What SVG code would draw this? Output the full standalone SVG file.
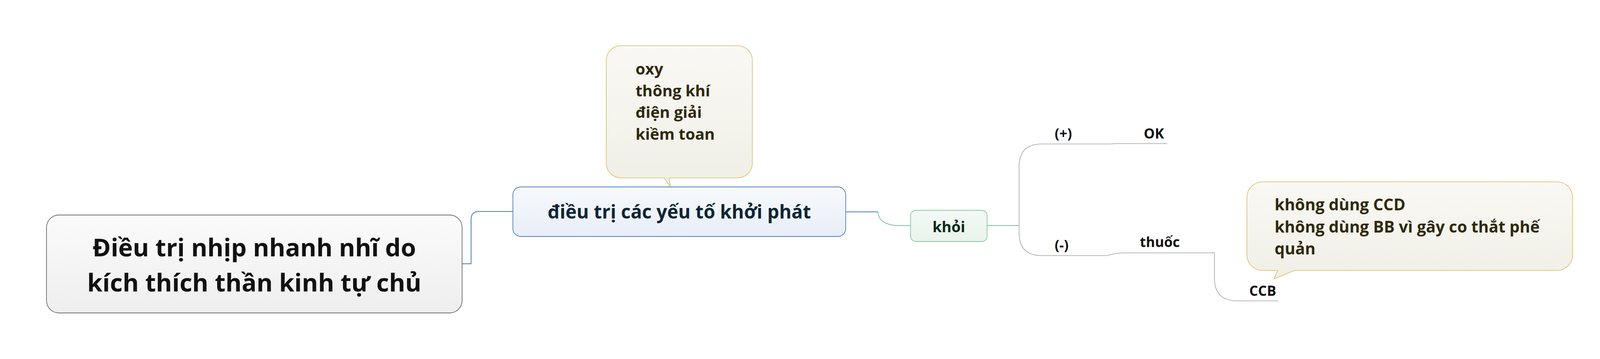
<svg xmlns="http://www.w3.org/2000/svg" width="4144" height="920" viewBox="0 0 4144 920">
<defs>
<linearGradient id="gRoot" x1="0" y1="0" x2="0" y2="1"><stop offset="0" stop-color="#fbfbfb"/><stop offset="1" stop-color="#eeeeee"/></linearGradient>
<linearGradient id="gMain" x1="0" y1="0" x2="0" y2="1"><stop offset="0" stop-color="#f7f9fc"/><stop offset="1" stop-color="#e8eef8"/></linearGradient>
<linearGradient id="gGreen" x1="0" y1="0" x2="0" y2="1"><stop offset="0" stop-color="#f4f9f5"/><stop offset="1" stop-color="#e8f3eb"/></linearGradient>
<linearGradient id="gNote" x1="0" y1="0" x2="0" y2="1"><stop offset="0" stop-color="#f9f8f4"/><stop offset="1" stop-color="#f0efe6"/></linearGradient>
</defs>
<style>
text{font-family:"Open Sans","Noto Sans","Liberation Sans",sans-serif;font-weight:700}
.conn path{fill:none}
.blue{stroke:#4a7ebb;stroke-width:2}
.green{stroke:#7cc49a;stroke-width:2}
.gray{stroke:#a3a3a3;stroke-width:1.6}
.note{fill:url(#gNote);stroke:#d8be63;stroke-width:1.6}
.notet{font-size:40px;fill:#2f2a0e}
.note2t{font-size:41px;fill:#2f2a0e}
.leaf{font-size:35.5px;fill:#111111}
</style>
<rect width="4144" height="920" fill="#ffffff"/>
<g id="connectors" class="conn">
<path class="blue" d="M1183,676 H1206 V562 Q1206,542 1226,542 H1313"/>
<path class="blue" d="M2165,543 H2248"/>
<path class="green" d="M2248,543 C2248,566 2270,578 2302,578 H2331"/>
<path class="green" d="M2527,578 H2609"/>
<path class="gray" d="M2609,578 V427 Q2609,369 2667,369 H2840 C2850,369 2850,368 2862,368 H2988"/>
<path class="gray" d="M2609,578 V597 Q2609,655 2667,655 H2830 C2845,655 2845,648 2880,648 H3109 V713 Q3109,771 3167,771 H3272"/>
</g>
<g id="root">
<rect x="119" y="551" width="1064" height="251" rx="32" ry="32" fill="url(#gRoot)" stroke="#6f6f6f" stroke-width="1.8"/>
<text x="651" y="657" font-size="63" fill="#111111" text-anchor="middle">Điều trị nhịp nhanh nhĩ do</text>
<text x="651" y="747" font-size="63" fill="#111111" text-anchor="middle">kích thích thần kinh tự chủ</text>
</g>
<g id="main">
<rect x="1313" y="479" width="852" height="127" rx="20" ry="20" fill="url(#gMain)" stroke="#4f81bd" stroke-width="1.8"/>
<text x="1739" y="560" font-size="48" fill="#0f2633" text-anchor="middle">điều trị các yếu tố khởi phát</text>
</g>
<g id="note1">
<path class="note" d="M1590,117 H1888 A38,38 0 0 1 1926,155 V418 A38,38 0 0 1 1888,456 H1713 L1716,478 L1700,456 H1590 A38,38 0 0 1 1552,418 V155 A38,38 0 0 1 1590,117 Z"/>
<text class="notet" x="1627" y="191">oxy</text>
<text class="notet" x="1627" y="247">thông khí</text>
<text class="notet" x="1627" y="302">điện giải</text>
<text class="notet" x="1627" y="358">kiềm toan</text>
</g>
<g id="khoi">
<rect x="2331" y="539" width="196" height="80" rx="14" ry="14" fill="url(#gGreen)" stroke="#84cc9f" stroke-width="1.8"/>
<text x="2429" y="595" font-size="38" fill="#0b2918" text-anchor="middle">khỏi</text>
</g>
<g id="plus"><text class="leaf" x="2700" y="355">(+)</text></g>
<g id="ok"><text class="leaf" x="2928" y="355">OK</text></g>
<g id="minus"><text class="leaf" x="2700" y="641">(-)</text></g>
<g id="thuoc"><text class="leaf" x="2918" y="633">thuốc</text></g>
<g id="ccb"><text class="leaf" x="3198" y="758">CCB</text></g>
<g id="note2">
<path class="note" d="M3232,466 H3986 A40,40 0 0 1 4026,506 V653 A40,40 0 0 1 3986,693 H3314 L3261,715 L3271,693 H3232 A40,40 0 0 1 3192,653 V506 A40,40 0 0 1 3232,466 Z"/>
<text class="note2t" x="3263" y="539">không dùng CCD</text>
<text class="note2t" x="3263" y="596">không dùng BB vì gây co thắt phế</text>
<text class="note2t" x="3263" y="652">quản</text>
</g>
</svg>
